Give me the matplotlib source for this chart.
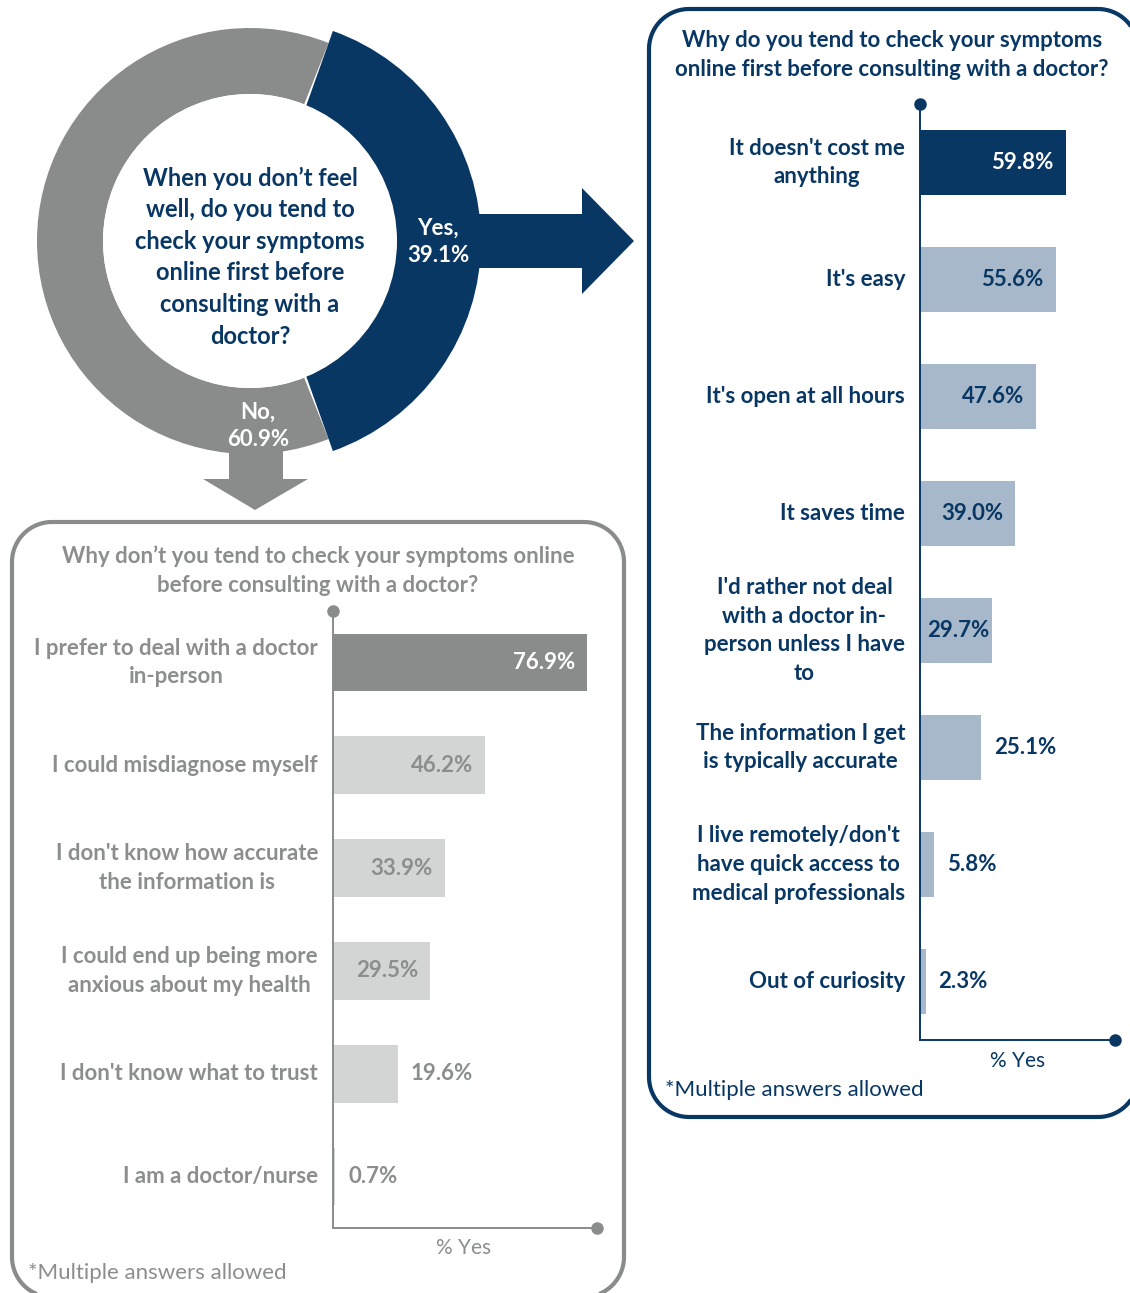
import numpy as np
import matplotlib
matplotlib.use("Agg")
import matplotlib.pyplot as plt
from matplotlib.patches import Wedge, Circle, Polygon

plt.rcParams['font.family'] = ['Lato', 'DejaVu Sans']

NAVY = '#083764'
NAVY_LIGHT = '#a7b8ca'
GREY = '#8a8c8c'
GREY_LIGHT = '#d3d4d4'
GREY_TEXT = '#8c8e8e'

# donut: share of respondents who check symptoms online first
donut_labels = ['Yes', 'No']
donut_values = [39.1, 60.9]

# reasons for checking online (Yes)
yes_reasons = ["It doesn't cost me\nanything", "It's easy", "It's open at all hours",
               "It saves time", "I'd rather not deal\nwith a doctor in-\nperson unless I have\nto",
               "The information I get\nis typically accurate",
               "I live remotely/don't\nhave quick access to\nmedical professionals",
               "Out of curiosity"]
yes_values = [59.8, 55.6, 47.6, 39.0, 29.7, 25.1, 5.8, 2.3]

# reasons for not checking online (No)
no_reasons = ["I prefer to deal with a doctor\nin-person", "I could misdiagnose myself",
              "I don't know how accurate\nthe information is",
              "I could end up being more\nanxious about my health",
              "I don't know what to trust", "I am a doctor/nurse"]
no_values = [76.9, 46.2, 33.9, 29.5, 19.6, 0.7]

W, H = 1130, 1293
fig = plt.figure(figsize=(W / 100, H / 100), dpi=100)

# full-figure canvas in pixel units (y down) for the boxes, donut and arrows
bg = fig.add_axes([0, 0, 1, 1])
bg.set_xlim(0, W)
bg.set_ylim(H, 0)
bg.axis('off')


def rounded_box(ax, x0, y0, x1, y1, r, color):
    pts = []
    corners = [(x1 - r, y0 + r, -np.pi / 2, 0), (x1 - r, y1 - r, 0, np.pi / 2),
               (x0 + r, y1 - r, np.pi / 2, np.pi), (x0 + r, y0 + r, np.pi, 1.5 * np.pi)]
    for cx, cy, a0, a1 in corners:
        a = np.linspace(a0, a1, 24)
        pts += list(zip(cx + r * np.cos(a), cy + r * np.sin(a)))
    ax.add_patch(Polygon(pts, closed=True, fc='none', ec=color, lw=3.0, zorder=1))


# panel frames
rounded_box(bg, 649, 9, 1138, 1117, 40, NAVY)
rounded_box(bg, 12, 522, 624, 1297, 40, GREY)

# arrows leading out of the donut
bg.add_patch(Polygon([(470, 214), (582, 214), (582, 188), (634, 241), (582, 294),
                      (582, 268), (470, 268)], closed=True, fc=NAVY, ec='none', zorder=2))
bg.add_patch(Polygon([(229, 440), (283, 440), (283, 479), (308, 479), (255, 510),
                      (203, 479), (229, 479)], closed=True, fc=GREY, ec='none', zorder=2))

# donut, with the Yes slice pulled out to the right
cx, cy = 250, 241
half = donut_values[0] / 100 * 360 / 2
bg.add_patch(Wedge((cx, cy), 213, half - 2, 360 - half + 2, width=66, fc=GREY, ec='none', zorder=3))
bg.add_patch(Wedge((cx + 8, cy), 223, -half, half, fc=NAVY, ec='none', zorder=3))
bg.add_patch(Circle((cx, cy), 147, fc='white', ec='none', zorder=4))

bg.text(cx, 257, "When you don\u2019t feel\nwell, do you tend to\ncheck your symptoms\n"
        "online first before\nconsulting with a\ndoctor?", ha='center', va='center',
        fontsize=17, fontweight='bold', color=NAVY, linespacing=1.45, zorder=5)
bg.text(438, 242, f"{donut_labels[0]},\n{donut_values[0]:.1f}%", ha='center', va='center',
        fontsize=16, fontweight='bold', color='white', linespacing=1.4, zorder=5)
bg.text(258, 426, f"{donut_labels[1]},\n{donut_values[1]:.1f}%", ha='center', va='center',
        fontsize=16, fontweight='bold', color='white', linespacing=1.4, zorder=5)

# panel titles and notes
bg.text(892, 55, "Why do you tend to check your symptoms\nonline first before consulting with a doctor?",
        ha='center', va='center', fontsize=16, fontweight='bold', color=NAVY, linespacing=1.48)
bg.text(318, 571, "Why don\u2019t you tend to check your symptoms online\nbefore consulting with a doctor?",
        ha='center', va='center', fontsize=16, fontweight='bold', color=GREY_TEXT, linespacing=1.48)
bg.text(1018, 1061, "% Yes", ha='center', va='center', fontsize=15, color=NAVY)
bg.text(665, 1090, "*Multiple answers allowed", ha='left', va='center', fontsize=16, color=NAVY)
bg.text(464, 1248, "% Yes", ha='center', va='center', fontsize=15, color=GREY_TEXT)
bg.text(28, 1273, "*Multiple answers allowed", ha='left', va='center', fontsize=16, color=GREY_TEXT)


def bar_panel(rect, cats, vals, xmax, top_color, bar_color, axis_color,
              cat_color, in_color, top_label_color):
    ax = fig.add_axes(rect)
    n = len(vals)
    y = np.arange(n)
    colors = [top_color] + [bar_color] * (n - 1)
    ax.barh(y, vals, height=0.56, color=colors, zorder=2)
    ax.set_xlim(0, xmax)
    ax.set_ylim(n - 0.5, -0.5)
    ax.set_xticks([])
    ax.set_yticks([])
    for s in ['top', 'right']:
        ax.spines[s].set_visible(False)
    for s in ['left', 'bottom']:
        ax.spines[s].set_color(axis_color)
        ax.spines[s].set_linewidth(1.4)
    ax.plot([0], [-0.5], 'o', color=axis_color, ms=8, clip_on=False, zorder=5)
    ax.plot([xmax], [n - 0.5], 'o', color=axis_color, ms=8, clip_on=False, zorder=5)

    px_per_unit = rect[2] * W / xmax
    for i, (c, v) in enumerate(zip(cats, vals)):
        ax.annotate(c, (0, i), xytext=(-15, 0), textcoords='offset pixels',
                    ha='right', va='center', multialignment='center',
                    fontsize=16, fontweight='bold', color=cat_color, linespacing=1.45)
        lab = f"{v:.1f}%"
        col = top_label_color if i == 0 else in_color
        if v >= 27:
            if v * px_per_unit < 85:
                ax.annotate(lab, (0, i), xytext=(7, 0), textcoords='offset pixels',
                            ha='left', va='center', fontsize=16, fontweight='bold', color=col)
            else:
                ax.annotate(lab, (v, i), xytext=(-12, 0), textcoords='offset pixels',
                            ha='right', va='center', fontsize=16, fontweight='bold', color=col)
        else:
            ax.annotate(lab, (v, i), xytext=(13, 0), textcoords='offset pixels',
                        ha='left', va='center', fontsize=16, fontweight='bold', color=cat_color)
    return ax


bar_panel([920 / W, 1 - 1040 / H, 195 / W, 936 / H], yes_reasons, yes_values, 80,
          NAVY, NAVY_LIGHT, NAVY, NAVY, NAVY, 'white')
bar_panel([333 / W, 1 - 1228 / H, 264 / W, 617 / H], no_reasons, no_values, 80,
          GREY, GREY_LIGHT, GREY, GREY_TEXT, GREY_TEXT, 'white')

fig.savefig('out.png', dpi=100, facecolor='white')
